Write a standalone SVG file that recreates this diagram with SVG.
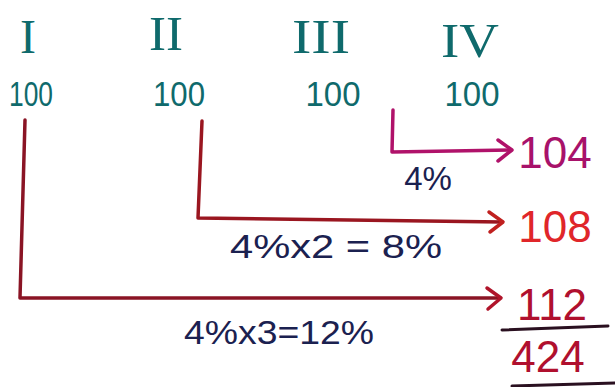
<svg xmlns="http://www.w3.org/2000/svg" width="615" height="387" viewBox="0 0 615 387">
<defs>
<style>
.hdr{font-family:"Liberation Serif",serif;fill:#0f6a6c;font-size:48px}
.num{font-family:"Liberation Sans",sans-serif;fill:#0f6a6c;font-size:35px}
.lbl{font-family:"Liberation Sans",sans-serif;fill:#1b2150;font-size:33px}
.res{font-family:"Liberation Sans",sans-serif;font-size:44px}
.conn{fill:none;stroke-width:3.5;stroke-linecap:round;stroke-linejoin:round}
.head{fill:none;stroke-width:3.5;stroke-linecap:round;stroke-linejoin:round}
</style>
</defs>
<rect width="615" height="387" fill="#ffffff"/>

<g id="col-I">
<text class="hdr" x="28" y="53" text-anchor="middle">I</text>
<text class="num" x="31" y="106" text-anchor="middle" textLength="44" lengthAdjust="spacingAndGlyphs">100</text>
</g>
<g id="col-II">
<text class="hdr" x="166" y="50" text-anchor="middle" textLength="34" lengthAdjust="spacingAndGlyphs">II</text>
<text class="num" x="179" y="106" text-anchor="middle" textLength="52" lengthAdjust="spacingAndGlyphs">100</text>
</g>
<g id="col-III">
<text class="hdr" x="321" y="53" text-anchor="middle" textLength="58" lengthAdjust="spacingAndGlyphs">III</text>
<text class="num" x="333" y="106" text-anchor="middle" textLength="55" lengthAdjust="spacingAndGlyphs">100</text>
</g>
<g id="col-IV">
<text class="hdr" x="470" y="57" text-anchor="middle" textLength="58" lengthAdjust="spacingAndGlyphs">IV</text>
<text class="num" x="472" y="106" text-anchor="middle" textLength="55" lengthAdjust="spacingAndGlyphs">100</text>
</g>

<g id="connectors">
<path class="conn" stroke="#b0126a" d="M393,110 L392,152 L510,150"/>
<path class="head" stroke="#b0126a" d="M498,140 L512,150 L498,161"/>
<path class="conn" stroke="#9a1620" d="M202,121 L198,218 L502,222"/>
<path class="head" stroke="#c0201f" d="M489,212 L503,222 L490,232"/>
<path class="conn" stroke="#8a1424" d="M25,120 L20,298 L500,298"/>
<path class="head" stroke="#b0142a" d="M487,288 L501,298 L488,309"/>
</g>

<g id="labels">
<text class="lbl" x="428" y="190" text-anchor="middle">4%</text>
<text class="lbl" x="336" y="258" text-anchor="middle" textLength="212" lengthAdjust="spacingAndGlyphs">4%x2 = 8%</text>
<text class="lbl" x="279" y="344" text-anchor="middle" textLength="190" lengthAdjust="spacingAndGlyphs">4%x3=12%</text>
</g>

<g id="result-104">
<text class="res" x="555" y="168" text-anchor="middle" fill="#a8126a">104</text>
</g>
<g id="result-108">
<text class="res" x="555" y="242" text-anchor="middle" fill="#e0262a">108</text>
</g>
<g id="result-112">
<text class="res" x="552" y="320" text-anchor="middle" fill="#b0102e">112</text>
<line x1="502" y1="330" x2="608" y2="326" stroke="#2a1020" stroke-width="3" stroke-linecap="round"/>
<text class="res" x="548" y="372" text-anchor="middle" fill="#b0102e">424</text>
<line x1="512" y1="386" x2="615" y2="383" stroke="#2a1020" stroke-width="3" stroke-linecap="round"/>
</g>
</svg>
